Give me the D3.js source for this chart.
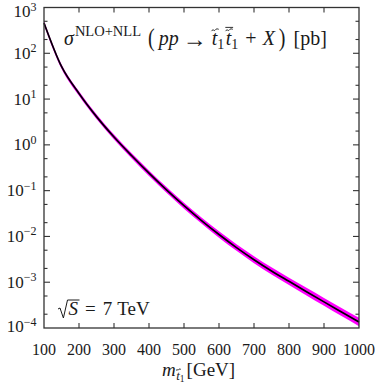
<!DOCTYPE html>
<html><head><meta charset="utf-8">
<script src="https://cdn.jsdelivr.net/npm/d3@7"></script>
<style>
body{margin:0;background:#fff}
svg{display:block}
text{font-family:"Liberation Serif","DejaVu Serif",serif;fill:#1a1a1a}
</style>
</head><body>
<svg id="c" width="375" height="383"></svg>
<script>
// ---- data ----
const masses    = [100, 150, 200, 250, 300, 350, 400, 450, 500, 550, 600, 650, 700, 750, 800, 850, 900, 950, 1000];
const sigma     = [459, 51.5, 13.24, 4.14, 1.486, 0.585, 0.241, 0.104, 0.04699, 0.02223, 0.01102, 5.71e-3, 3.105e-3, 1.766e-3, 1.045e-3, 6.22e-4, 3.72e-4, 2.239e-4, 1.349e-4];
const sigmaUp   = [515, 57.8, 14.86, 4.67, 1.687, 0.667, 0.2767, 0.1199, 0.05456, 0.02594, 0.01295, 6.74e-3, 3.69e-3, 2.114e-3, 1.256e-3, 7.53e-4, 4.54e-4, 2.747e-4, 1.667e-4];
const sigmaDown = [409, 45.9, 11.80, 3.67, 1.309, 0.513, 0.2099, 0.0902, 0.04047, 0.01905, 0.00938, 4.84e-3, 2.61e-3, 1.475e-3, 8.69e-4, 5.14e-4, 3.055e-4, 1.825e-4, 1.091e-4];
const xTicks    = [100, 200, 300, 400, 500, 600, 700, 800, 900, 1000];
const yExponents = [3, 2, 1, 0, -1, -2, -3, -4];
const yMinorMult = [2, 5];

// ---- layout ----
const X0 = 44, X1 = 359, Y0 = 328, Y1 = 7.5;
const svg = d3.select("#c");
const x = d3.scaleLinear().domain([100, 1000]).range([X0, X1]);
const y = d3.scaleLog().domain([1e-4, 1e3]).range([Y0, Y1]);
const ink = "#1a1a1a";

const pts = masses.map((m, i) => ({m, s: sigma[i], u: sigmaUp[i], d: sigmaDown[i]}));

svg.append("path").datum(pts).attr("fill", "#ff00ff")
  .attr("d", d3.area().curve(d3.curveMonotoneX).x(d => x(d.m)).y0(d => y(d.d)).y1(d => y(d.u)));

svg.append("path").datum(pts).attr("fill", "none").attr("stroke", "#000").attr("stroke-width", 1.7)
  .attr("d", d3.line().curve(d3.curveMonotoneX).x(d => x(d.m)).y(d => y(d.s)));

// frame
const axisCol = "#333";
svg.append("rect").attr("x", X0).attr("y", Y1).attr("width", X1 - X0).attr("height", Y0 - Y1)
  .attr("fill", "none").attr("stroke", axisCol).attr("stroke-width", 1.3);

// x ticks
const gx = svg.append("g").attr("stroke", axisCol).attr("stroke-width", 1.1);
xTicks.forEach(t => {
  if (t === 100 || t === 1000) return;
  gx.append("line").attr("x1", x(t)).attr("x2", x(t)).attr("y1", Y0).attr("y2", Y0 - 5);
  gx.append("line").attr("x1", x(t)).attr("x2", x(t)).attr("y1", Y1).attr("y2", Y1 + 5);
});
xTicks.forEach(t => {
  svg.append("text").attr("x", x(t)).attr("y", 354.5).attr("text-anchor", "middle")
    .attr("font-size", 16).text(t);
});

// y ticks
const gy = svg.append("g").attr("stroke", axisCol).attr("stroke-width", 1.1);
yExponents.forEach(e => {
  const v = Math.pow(10, e);
  if (e !== 3 && e !== -4) {
    gy.append("line").attr("x1", X0).attr("x2", X0 + 6).attr("y1", y(v)).attr("y2", y(v));
    gy.append("line").attr("x1", X1).attr("x2", X1 - 6).attr("y1", y(v)).attr("y2", y(v));
  }
  if (e < 3) {
    yMinorMult.forEach(k => {
      const mv = k * v;
      gy.append("line").attr("x1", X0).attr("x2", X0 + 3.5).attr("y1", y(mv)).attr("y2", y(mv));
      gy.append("line").attr("x1", X1).attr("x2", X1 - 3.5).attr("y1", y(mv)).attr("y2", y(mv));
    });
  }
  const off = e === 3 ? 9.5 : (e === -4 ? 4 : 5.5);
  const lbl = svg.append("text").attr("x", 36.5).attr("y", y(v) + off).attr("text-anchor", "end");
  lbl.append("tspan").attr("font-size", 17).text("10");
  lbl.append("tspan").attr("font-size", 12).attr("dy", -6.5).text(e < 0 ? "\u2212" + (-e) : String(e));
});

// ---- math-like text helpers ----
function tildePath(cx, cy, w) {
  const a = w * 0.13;
  return `M${cx - w/2},${cy + a} C${cx - w/4},${cy - a*1.8} ${cx - w/8},${cy + a*1.2} ${cx},${cy} S${cx + w/4},${cy - a*1.8} ${cx + w/2},${cy - a}`;
}
function flow(x0, base, pieces) {
  let cx = x0;
  pieces.forEach(p => {
    cx += (p.gap || 0);
    const t = svg.append("text").attr("x", cx).attr("y", base + (p.dy || 0))
      .attr("font-size", p.size).attr("font-style", p.it ? "italic" : null).text(p.t);
    const w = t.node().getComputedTextLength();
    if (p.big) {
      const bb = t.node().getBBox();
      const k = (p.big[1] - p.big[0]) / bb.height;
      t.attr("transform", `translate(0,${p.big[0] - bb.y * k}) scale(1,${k})`);
    }
    if (p.acc) {
      const s = p.size, by = base + (p.dy || 0), ccx = cx + w * 0.6;
      svg.append("path").attr("d", tildePath(ccx, by - 0.74 * s, 0.36 * s))
        .attr("fill", "none").attr("stroke", ink).attr("stroke-width", 1);
      if (p.acc === "bar") {
        svg.append("line").attr("x1", ccx - 0.19 * s).attr("x2", ccx + 0.2 * s)
          .attr("y1", by - 0.88 * s).attr("y2", by - 0.88 * s)
          .attr("stroke", ink).attr("stroke-width", 0.9);
      }
    }
    cx += w;
  });
  return cx;
}

// title
const F = 20, FS = 14.5;
flow(64, 45, [
  {t: "σ", size: F, it: true},
  {t: "NLO+NLL", size: FS, dy: -9, gap: 1},
  {t: "(", size: 20, gap: 7, big: [23, 53]},
  {t: "pp", size: F, it: true, gap: 4},
  {t: "→", size: 24, dy: 1.5, gap: 4},
  {t: "t", size: F, it: true, gap: 5, acc: "tilde"},
  {t: "1", size: 14, dy: 4},
  {t: "t", size: F, it: true, gap: 1.5, acc: "bar"},
  {t: "1", size: 14, dy: 4},
  {t: "+", size: F, gap: 7},
  {t: "X", size: F, it: true, gap: 6},
  {t: ")", size: 20, gap: 4, big: [23, 53]},
  {t: "[pb]", size: F, gap: 8}
]);

// sqrt(S) = 7 TeV
(function () {
  const base = 315, f = 19;
  const rx = 58;
  const sx = rx + 10.5;
  const sEl = svg.append("text").attr("x", sx).attr("y", base).attr("font-size", f).attr("font-style", "italic").text("S");
  const sw = sEl.node().getComputedTextLength();
  const top = base - 15;
  svg.append("path")
    .attr("d", `M${rx},${base - 6} L${rx + 2},${base - 7} L${rx + 5.4},${base + 3} L${rx + 9.5},${top} L${sx + sw + 1.5},${top}`)
    .attr("fill", "none").attr("stroke", ink).attr("stroke-width", 1);
  flow(sx + sw, base, [
    {t: "=", size: f, gap: 7},
    {t: "7", size: f, gap: 7},
    {t: "TeV", size: f, gap: 5}
  ]);
})();

// x label
flow(162, 376, [
  {t: "m", size: 19, it: true},
  {t: "t", size: 13, it: true, dy: 3.5, gap: 0.5, acc: "tilde"},
  {t: "1", size: 9.5, dy: 5.5},
  {t: "[GeV]", size: 19, gap: 2}
]);
</script>
</body></html>
